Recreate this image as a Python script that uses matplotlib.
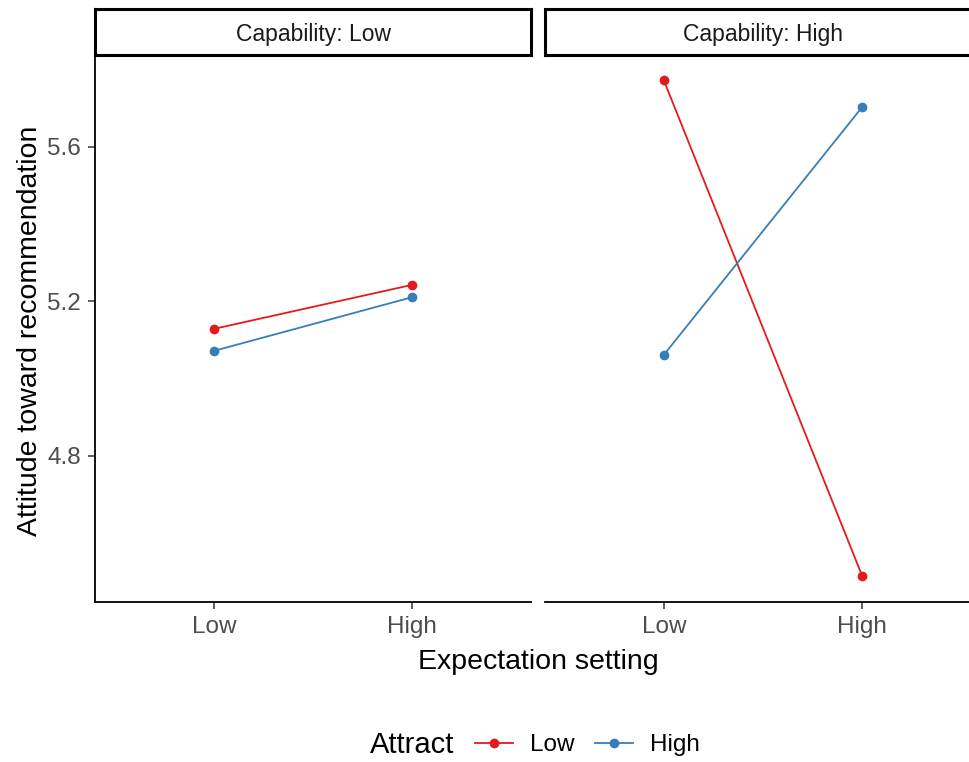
import matplotlib
import matplotlib.pyplot as plt
from matplotlib.lines import Line2D

matplotlib.use('Agg')

# --- datos ---
capacidades = ['Low', 'High']
expectativa = ['Low', 'High']
attract = ['Low', 'High']
colores = ['#E41A1C', '#377EB8']

# valores por panel (Capability), para Attract Low y Attract High
cap_low_attr_low = [5.128, 5.242]
cap_low_attr_high = [5.071, 5.210]
cap_high_attr_low = [5.771, 4.489]
cap_high_attr_high = [5.061, 5.702]

paneles = [
    [cap_low_attr_low, cap_low_attr_high],
    [cap_high_attr_low, cap_high_attr_high],
]

plt.rcParams['font.family'] = ['Liberation Sans', 'DejaVu Sans']

W, H = 970, 762
fig = plt.figure(figsize=(W / 100, H / 100), dpi=100)

# posiciones en pixeles del original
panel_w = 436
lefts = [95, 545]
top, bottom = 55, 602
strip_top = 9

for i, cap in enumerate(capacidades):
    ax = fig.add_axes([lefts[i] / W, 1 - bottom / H, panel_w / W, (bottom - top) / H])
    x = range(len(expectativa))
    for serie, color in zip(paneles[i], colores):
        ax.plot(x, serie, color=color, lw=1.3, marker='o', markersize=6, zorder=3)
    ax.set_xlim(-0.6, 1.6)
    ax.set_ylim(4.421, 5.837)
    ax.set_xticks(list(x))
    ax.set_xticklabels(expectativa)
    ax.set_yticks([4.8, 5.2, 5.6])
    ax.set_yticklabels(['4.8', '5.2', '5.6'])
    for s in ['top', 'right']:
        ax.spines[s].set_visible(False)
    ax.spines['bottom'].set_linewidth(1.3)
    ax.spines['left'].set_linewidth(1.3)
    ax.tick_params(axis='both', labelsize=17.5, labelcolor='#4D4D4D', color='#333333',
                   length=5, width=1.1, pad=5)
    if i == 1:
        ax.spines['left'].set_visible(False)
        ax.tick_params(axis='y', left=False, labelleft=False)

    # franja del facet
    sax = fig.add_axes([lefts[i] / W, 1 - top / H, panel_w / W, (top - strip_top) / H])
    sax.set_xticks([])
    sax.set_yticks([])
    for s in sax.spines.values():
        s.set_linewidth(2.2)
        s.set_color('black')
    sax.text(0.5, 0.45, 'Capability: ' + cap, ha='center', va='center',
             fontsize=16.5, color='#1A1A1A', transform=sax.transAxes)

# titulos de ejes
fig.text(538 / W, 1 - 662 / H, 'Expectation setting', ha='center', va='center',
         fontsize=20.5, color='black')
fig.text(30 / W, 1 - 331 / H, 'Attitude toward recommendation', ha='center', va='center',
         rotation=90, fontsize=20.5, color='black')

# leyenda
fig.text(412 / W, 1 - 745 / H, 'Attract', ha='center', va='center', fontsize=21, color='black')
handles = [Line2D([], [], color=c, lw=1.3, marker='o', markersize=6) for c in colores]
fig.legend(handles, attract, loc='center left', bbox_to_anchor=(475 / W, 1 - 745 / H),
           ncol=2, frameon=False, fontsize=17.5, handlelength=1.57, handletextpad=0.7,
           columnspacing=0.83, borderpad=0, borderaxespad=0)

plt.savefig('out.png', dpi=100)
